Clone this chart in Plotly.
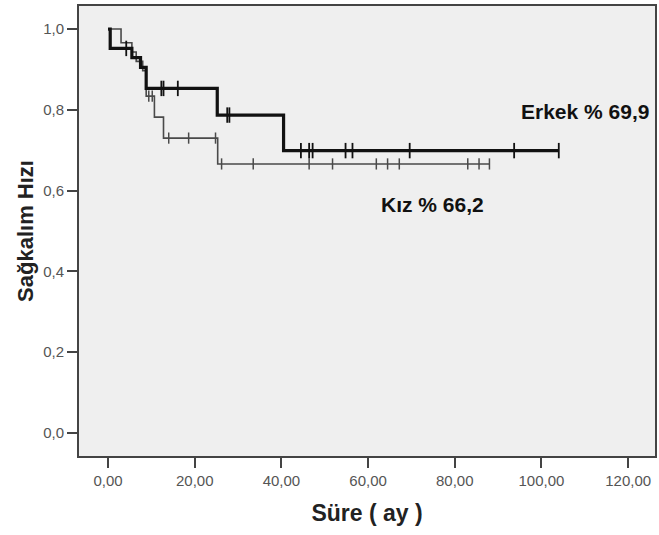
import plotly.graph_objects as go
import numpy as np

# Kaplan-Meier step data (time in months, survival proportion)
erkek_time = [0, 0.5, 5.5, 7.5, 8.8, 25.2, 40.5, 104.0]
erkek_surv = [1.0, 0.952, 0.929, 0.905, 0.853, 0.787, 0.699, 0.699]
erkek_censor = [4.2, 12.3, 12.8, 16.1, 27.5, 28.0, 44.5, 46.4, 47.2, 54.8, 56.4, 69.6, 93.7, 104.0]

kiz_time = [0, 3.0, 5.5, 6.5, 8.0, 8.8, 10.7, 12.8, 25.3, 88.0]
kiz_surv = [1.0, 0.966, 0.943, 0.92, 0.897, 0.834, 0.782, 0.730, 0.666, 0.666]
kiz_censor = [9.4, 10.2, 14.0, 18.6, 24.8, 26.2, 33.5, 46.4, 51.8, 61.9, 64.5, 67.2, 83.0, 85.6, 88.0]

x_ticks = [0, 20, 40, 60, 80, 100, 120]
x_ticklabels = ["0,00", "20,00", "40,00", "60,00", "80,00", "100,00", "120,00"]
y_ticks = [0.0, 0.2, 0.4, 0.6, 0.8, 1.0]
y_ticklabels = ["0,0", "0,2", "0,4", "0,6", "0,8", "1,0"]

labels = ["Erkek % 69,9", "Kız % 66,2"]


def surv_at(times, survs, t):
    idx = np.searchsorted(np.array(times), t, side="right") - 1
    return survs[max(idx, 0)]


fig = go.Figure()

fig.add_trace(go.Scatter(x=kiz_time, y=kiz_surv, mode="lines", line_shape="hv",
                         line=dict(color="#4a4a4a", width=1.6), showlegend=False, hoverinfo="skip"))
fig.add_trace(go.Scatter(x=kiz_censor, y=[surv_at(kiz_time, kiz_surv, t) for t in kiz_censor],
                         mode="markers", marker=dict(symbol="line-ns", size=8,
                                                     line=dict(color="#4a4a4a", width=1.5)),
                         showlegend=False, hoverinfo="skip"))

fig.add_trace(go.Scatter(x=erkek_time, y=erkek_surv, mode="lines", line_shape="hv",
                         line=dict(color="#111111", width=3.2), showlegend=False, hoverinfo="skip"))
fig.add_trace(go.Scatter(x=erkek_censor, y=[surv_at(erkek_time, erkek_surv, t) for t in erkek_censor],
                         mode="markers", marker=dict(symbol="line-ns", size=11,
                                                     line=dict(color="#111111", width=1.8)),
                         showlegend=False, hoverinfo="skip"))

fig.add_annotation(x=110.1, y=0.797, text="<b>" + labels[0] + "</b>", showarrow=False,
                   font=dict(family="Liberation Sans, Arial", size=21, color="#111111"))
fig.add_annotation(x=74.9, y=0.565, text="<b>" + labels[1] + "</b>", showarrow=False,
                   font=dict(family="Liberation Sans, Arial", size=21, color="#111111"))

fig.update_layout(
    width=659, height=535,
    margin=dict(l=79, r=2, t=6, b=79),
    paper_bgcolor="white",
    plot_bgcolor="#efefef",
    font=dict(family="Liberation Sans, Arial", color="#333333"),
    xaxis=dict(range=[-6.7, 126.2], tickvals=x_ticks, ticktext=x_ticklabels,
               showgrid=False, zeroline=False, showline=True, mirror=True,
               linecolor="#444444", linewidth=2, ticks="outside", ticklen=10, tickwidth=2,
               tickcolor="#444444", tickfont=dict(size=15, color="#555555"),
               title=dict(text="<b>Süre ( ay )</b>", font=dict(size=23, color="#222222"), standoff=17)),
    yaxis=dict(range=[-0.057, 1.057], tickvals=y_ticks, ticktext=y_ticklabels,
               showgrid=False, zeroline=False, showline=True, mirror=True,
               linecolor="#444444", linewidth=2, ticks="outside", ticklen=10, tickwidth=2,
               tickcolor="#444444", tickfont=dict(size=15, color="#555555"),
               title=dict(text="<b>Sağkalım Hızı</b>", font=dict(size=22, color="#222222"), standoff=3)),
)

fig.write_html("out.html")
